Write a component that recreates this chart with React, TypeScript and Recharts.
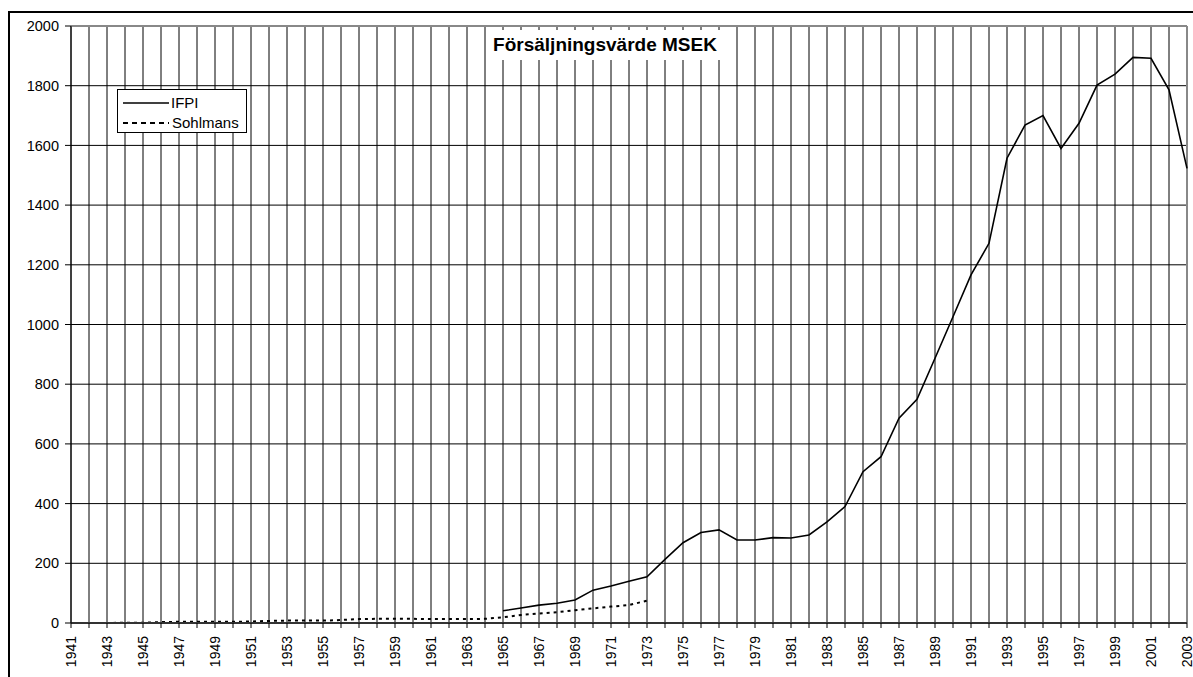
import React from "react";
import {
  LineChart,
  Line,
  XAxis,
  YAxis,
  CartesianGrid,
  ReferenceLine,
} from "recharts";

const FONT = '"Liberation Sans", Arial, sans-serif';

const years = Array.from({ length: 63 }, (_, i) => 1941 + i);

// IFPI, MSEK (from 1965)
const ifpi: (number | null)[] = [
  null, null, null, null, null, null, null, null, null, null, // 1941-1950
  null, null, null, null, null, null, null, null, null, null, // 1951-1960
  null, null, null, null, // 1961-1964
  41, 50, 60, 66, 77, 110, 124, 140, 155, 213, // 1965-1974
  269, 303, 312, 278, 278, 286, 285, 295, 339, 390, // 1975-1984
  507, 557, 686, 749, 887, 1026, 1166, 1272, 1557, 1668, // 1985-1994
  1700, 1590, 1674, 1802, 1839, 1895, 1892, 1786, 1523, // 1995-2003
];

// Sohlmans, MSEK (1941-1973)
const sohlmans: (number | null)[] = [
  0, 0, 0, 1, 1, 3, 4, 4, 4, 4, // 1941-1950
  5, 7, 8, 8, 8, 10, 13, 14, 14, 14, // 1951-1960
  13, 13, 13, 14, 19, 27, 32, 36, 43, 49, // 1961-1970
  55, 60, 75, // 1971-1973
];

const yTicks = [0, 200, 400, 600, 800, 1000, 1200, 1400, 1600, 1800, 2000];

const data = years.map((year, i) => ({
  year,
  ifpi: ifpi[i] ?? null,
  sohlmans: i < sohlmans.length ? sohlmans[i] : null,
}));

const YearTick = (props: any) => {
  const { x, y, payload } = props;
  if (payload.value % 2 === 0) return null;
  const ay = y + 6;
  return (
    <text
      x={x}
      y={ay}
      dy="0.36em"
      textAnchor="end"
      transform={`rotate(-90, ${x}, ${ay})`}
      fontSize={14}
      fontFamily={FONT}
      fill="#000"
    >
      {payload.value}
    </text>
  );
};

const LegendBox = () => (
  <div
    style={{
      position: "absolute",
      left: 117,
      top: 89,
      width: 128,
      height: 42,
      border: "1px solid #000",
      background: "#fff",
    }}
  >
    <svg width={128} height={42} style={{ display: "block" }}>
      <line x1={5} y1={13} x2={51} y2={13} stroke="#000" strokeWidth={1.5} />
      <text x={53} y={18} fontSize={15} fontFamily={FONT} fill="#000">
        IFPI
      </text>
      <line
        x1={5}
        y1={33}
        x2={51}
        y2={33}
        stroke="#000"
        strokeWidth={2}
        strokeDasharray="5 4"
      />
      <text x={54} y={38} fontSize={15} fontFamily={FONT} fill="#000">
        Sohlmans
      </text>
    </svg>
  </div>
);

export default function App() {
  return (
    <div
      style={{
        position: "fixed",
        left: 0,
        top: 0,
        width: 1193,
        height: 677,
        background: "#fff",
        overflow: "hidden",
      }}
    >
      <div
        style={{
          position: "absolute",
          left: 8,
          top: 11,
          width: 1300,
          height: 800,
          border: "2px solid #000",
        }}
      />
      <div style={{ position: "absolute", left: 0, top: 0 }}>
        <LineChart
          width={1193}
          height={677}
          data={data}
          margin={{ top: 26, right: 6, bottom: 4, left: 0 }}
        >
          <CartesianGrid stroke="#000" strokeWidth={1} />
          <XAxis
            dataKey="year"
            type="number"
            domain={[1941, 2003]}
            ticks={years}
            interval={0}
            height={50}
            tick={<YearTick />}
            tickSize={5}
            axisLine={{ stroke: "#333", strokeWidth: 2 }}
            tickLine={{ stroke: "#000" }}
          />
          <YAxis
            domain={[0, 2000]}
            ticks={yTicks}
            interval={0}
            width={71}
            tickSize={6}
            tick={{ fontSize: 14.5, fontFamily: FONT, fill: "#000", dx: -4 }}
            axisLine={{ stroke: "#000" }}
            tickLine={{ stroke: "#000" }}
          />
          <ReferenceLine x={2003} stroke="#888" strokeWidth={2} />
          <ReferenceLine y={2000} stroke="#888" strokeWidth={2} />
          <Line
            type="linear"
            dataKey="ifpi"
            stroke="#000"
            strokeWidth={1.6}
            dot={false}
            isAnimationActive={false}
          />
          <Line
            type="linear"
            dataKey="sohlmans"
            stroke="#000"
            strokeWidth={2}
            strokeDasharray="3 4"
            dot={false}
            isAnimationActive={false}
          />
        </LineChart>
      </div>
      <LegendBox />
      <div
        style={{
          position: "absolute",
          left: 490,
          top: 30,
          width: 230,
          height: 30,
          background: "#fff",
          fontFamily: FONT,
          fontWeight: "bold",
          fontSize: 19,
          lineHeight: "30px",
          textAlign: "center",
          color: "#000",
        }}
      >
        Försäljningsvärde MSEK
      </div>
    </div>
  );
}
